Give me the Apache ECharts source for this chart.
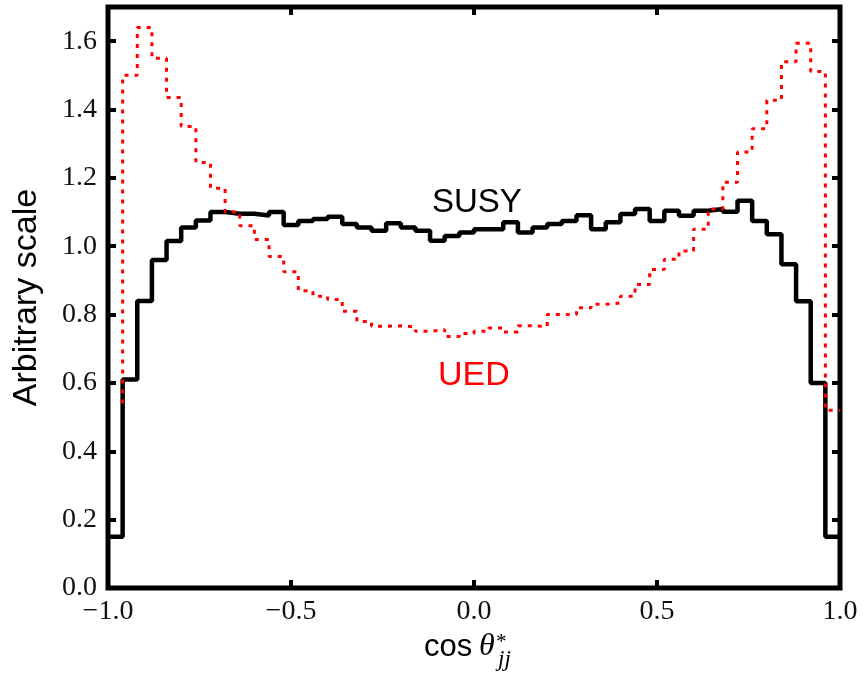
<!DOCTYPE html>
<html lang="en">
<head>
<meta charset="utf-8">
<title>cos theta jj - SUSY vs UED</title>
<script src="https://cdn.jsdelivr.net/npm/echarts@6/dist/echarts.min.js"></script>
<style>html,body{margin:0;padding:0;background:#fff;}</style>
</head>
<body>
<div id="main" style="width:864px;height:678px;"></div>
<script type="text/javascript">
// histogram: 50 bins between -1 and 1
var nBins = 50;
var xMin = -1.0, xMax = 1.0;

var susyValues = [
    0.15, 0.61, 0.84, 0.96, 1.015, 1.055, 1.075, 1.10, 1.095, 1.095,
    1.09, 1.10, 1.062, 1.074, 1.08, 1.086, 1.065, 1.055, 1.045, 1.067,
    1.055, 1.045, 1.016, 1.03, 1.04, 1.05, 1.05, 1.07, 1.04, 1.055,
    1.065, 1.074, 1.091, 1.05, 1.07, 1.094, 1.109, 1.074, 1.104, 1.089,
    1.104, 1.109, 1.101, 1.133, 1.074, 1.035, 0.947, 0.839, 0.60, 0.15
];
var uedValues = [
    0.54, 1.50, 1.64, 1.55, 1.435, 1.35, 1.245, 1.17, 1.10, 1.06,
    1.02, 0.97, 0.925, 0.87, 0.854, 0.844, 0.81, 0.78, 0.766, 0.767,
    0.764, 0.751, 0.756, 0.736, 0.745, 0.751, 0.761, 0.749, 0.767, 0.765,
    0.80, 0.80, 0.82, 0.83, 0.834, 0.854, 0.888, 0.932, 0.962, 0.986,
    1.05, 1.109, 1.187, 1.276, 1.344, 1.427, 1.54, 1.594, 1.511, 0.52
];

var xTicks = [-1.0, -0.5, 0.0, 0.5, 1.0];
var xTickLabels = ['\u22121.0', '\u22120.5', '0.0', '0.5', '1.0'];
var yTicks = [0.0, 0.2, 0.4, 0.6, 0.8, 1.0, 1.2, 1.4, 1.6];
var yTickLabels = ['0.0', '0.2', '0.4', '0.6', '0.8', '1.0', '1.2', '1.4', '1.6'];

function edge(k) {
    return +(xMin + k * (xMax - xMin) / nBins).toFixed(4);
}

// step points: left edge of each bin, plus closing point at xMax
var susyData = [];
for (var i = 0; i < nBins; i++) susyData.push([edge(i), susyValues[i]]);
susyData.push([xMax, susyValues[nBins - 1]]);

// UED curve starts with its rising edge (no first flat piece)
var uedData = [[edge(1), uedValues[0]]];
for (var j = 1; j < nBins; j++) uedData.push([edge(j), uedValues[j]]);
uedData.push([xMax, uedValues[nBins - 1]]);

function lookup(ticks, labels, v) {
    for (var k = 0; k < ticks.length; k++) {
        if (Math.abs(ticks[k] - v) < 1e-6) return labels[k];
    }
    return '';
}

var tickStyle = {inside: true, length: 8, lineStyle: {color: '#000', width: 4}};
var labelFont = {fontFamily: 'Liberation Serif', fontSize: 28, color: '#111'};
var noLine = {show: false, onZero: false};

var myChart = echarts.init(document.getElementById('main'));
myChart.setOption({
    backgroundColor: '#ffffff',
    animation: false,
    grid: {
        left: 108, right: 24, top: 7, bottom: 90,
        show: true, borderColor: '#000', borderWidth: 5, backgroundColor: '#fff'
    },
    xAxis: [{
        type: 'value', position: 'bottom', min: xMin, max: xMax, interval: 0.5,
        axisLine: noLine, splitLine: {show: false}, axisTick: tickStyle,
        axisLabel: Object.assign({margin: 10, formatter: function (v) {
            return lookup(xTicks, xTickLabels, v);
        }}, labelFont)
    }, {
        type: 'value', position: 'top', min: xMin, max: xMax, interval: 0.5,
        axisLine: noLine, splitLine: {show: false}, axisTick: tickStyle,
        axisLabel: {show: false}
    }],
    yAxis: [{
        type: 'value', position: 'left', min: 0, max: 1.7, interval: 0.2,
        name: 'Arbitrary scale', nameLocation: 'middle', nameGap: 64,
        nameTextStyle: {fontFamily: 'Liberation Sans', fontSize: 34, color: '#000'},
        axisLine: noLine, splitLine: {show: false}, axisTick: tickStyle,
        axisLabel: Object.assign({margin: 11, showMaxLabel: false, formatter: function (v) {
            return lookup(yTicks, yTickLabels, v);
        }}, labelFont)
    }, {
        type: 'value', position: 'right', min: 0, max: 1.7, interval: 0.2,
        axisLine: noLine, splitLine: {show: false}, axisTick: tickStyle,
        axisLabel: {show: false}
    }],
    graphic: [
        {type: 'text', left: 432, top: 186, style: {text: 'SUSY', font: '33px "Liberation Sans"', fill: '#000'}},
        {type: 'text', left: 438, top: 359, style: {text: 'UED', font: '34px "Liberation Sans"', fill: '#ff0000'}},
        {type: 'text', left: 424, top: 632, style: {text: 'cos', font: '31px "Liberation Sans"', fill: '#000'}},
        {type: 'text', left: 479, top: 631, style: {text: '\u03b8', font: 'italic 32px "Liberation Serif"', fill: '#000'}},
        {type: 'text', left: 496, top: 632, style: {text: '*', font: '21px "Liberation Serif"', fill: '#000'}},
        {type: 'text', left: 498, top: 648, style: {text: 'jj', font: 'italic 23px "Liberation Serif"', fill: '#000'}}
    ],
    series: [{
        name: 'SUSY', type: 'line', step: 'end', symbol: 'none', z: 3,
        data: susyData,
        lineStyle: {color: '#000', width: 4.5}
    }, {
        name: 'UED', type: 'line', step: 'end', symbol: 'none', z: 4,
        data: uedData,
        lineStyle: {color: '#ff0000', width: 3, type: [4, 6]}
    }]
});
</script>
</body>
</html>
